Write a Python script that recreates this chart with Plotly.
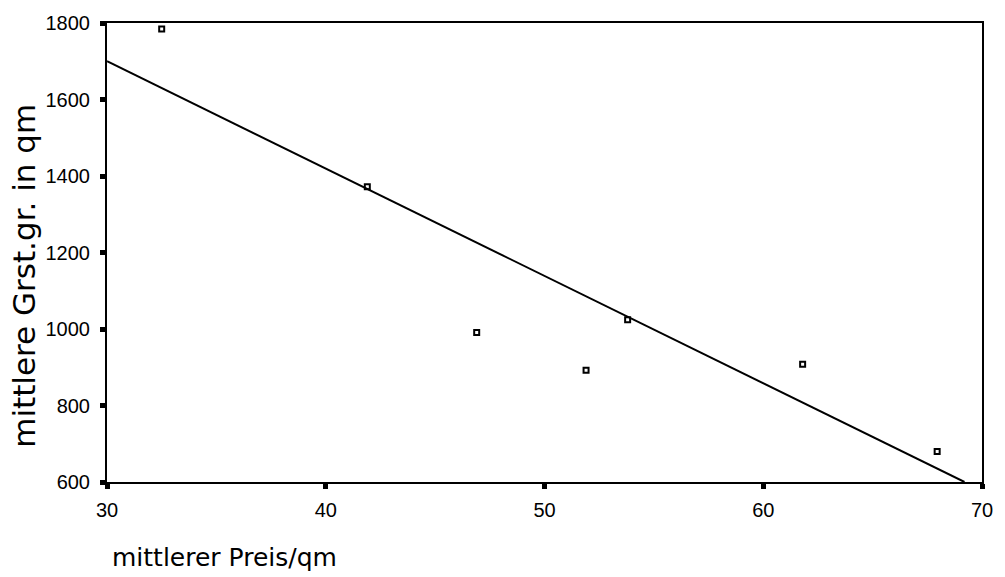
import plotly.graph_objects as go

# Data
preis_qm = [32.5, 41.9, 46.9, 51.9, 53.8, 61.8, 67.95]
grst_qm = [1784, 1372, 991, 892, 1024, 908, 680]

# Regression line as drawn
fit_x = [30, 69.2]
fit_y = [1700, 600]

x_ticks = [30, 40, 50, 60, 70]
y_ticks = [600, 800, 1000, 1200, 1400, 1600, 1800]

fig = go.Figure()
fig.add_trace(go.Scatter(
    x=fit_x, y=fit_y, mode="lines",
    line=dict(color="black", width=2),
    showlegend=False, hoverinfo="skip",
))
fig.add_trace(go.Scatter(
    x=preis_qm, y=grst_qm, mode="markers",
    marker=dict(symbol="square-open", size=5, color="black",
                line=dict(color="black", width=2)),
    showlegend=False, cliponaxis=False,
))

axis_common = dict(
    showgrid=False, zeroline=False,
    showline=True, linecolor="black", linewidth=2, mirror=True,
    ticks="outside", ticklen=5, tickwidth=5, tickcolor="black",
    tickfont=dict(family="Liberation Sans, Arial, sans-serif", size=20, color="black"),
)

fig.update_layout(
    width=1005, height=577,
    margin=dict(l=107, r=20, t=18, b=95),
    paper_bgcolor="white", plot_bgcolor="white",
    xaxis=dict(range=[30, 70], tickvals=x_ticks, ticklabelstandoff=4, **axis_common),
    yaxis=dict(range=[600, 1800], tickvals=y_ticks, ticklabelstandoff=6, **axis_common),
    annotations=[
        dict(text="mittlerer Preis/qm", xref="paper", yref="paper",
             x=0.003, y=-0.165, xanchor="left", yanchor="middle",
             showarrow=False,
             font=dict(family="DejaVu Sans, sans-serif", size=25, color="black")),
        dict(text="mittlere Grst.gr. in qm", xref="paper", yref="paper",
             x=-0.0945, y=0.45, xanchor="center", yanchor="middle",
             textangle=-90, showarrow=False,
             font=dict(family="DejaVu Sans, sans-serif", size=31, color="black")),
    ],
)

fig.write_html("out.html")
